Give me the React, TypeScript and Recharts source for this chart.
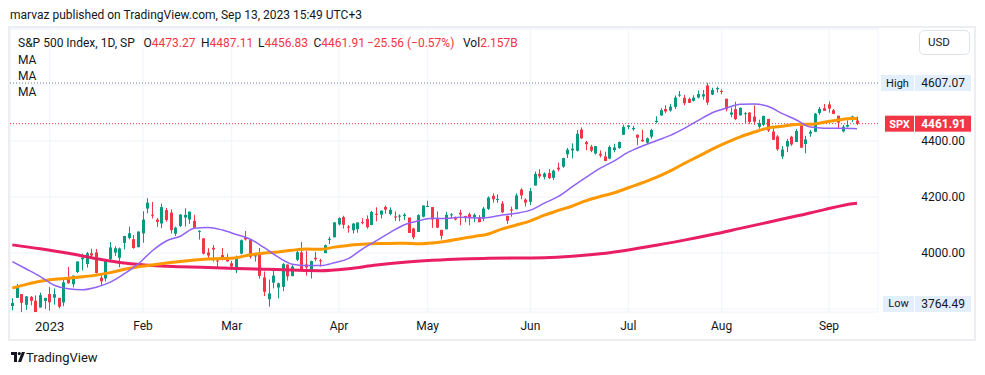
import React from "react";
import { ComposedChart, Bar, Line, XAxis, YAxis, CartesianGrid, ReferenceLine } from "recharts";

const FONT = "Roboto, 'Noto Sans', Arial, sans-serif";
const UP = "#089981";
const DOWN = "#f23645";
const TEXT = "#131722";

const titleText = "marvaz published on TradingView.com, Sep 13, 2023 15:49 UTC+3";
const symbolText = "S&P 500 Index, 1D, SP";
const legendO = "4473.27";
const legendH = "4487.11";
const legendL = "4456.83";
const legendC = "4461.91";
const legendChange = "\u221225.56 (\u22120.57%)";
const legendVol = "2.157B";

const dates = (
  "12/20 12/21 12/22 12/23 12/27 12/28 12/29 12/30 " +
  "1/3 1/4 1/5 1/6 1/9 1/10 1/11 1/12 1/13 1/17 1/18 1/19 1/20 1/23 1/24 1/25 1/26 1/27 1/30 1/31 " +
  "2/1 2/2 2/3 2/6 2/7 2/8 2/9 2/10 2/13 2/14 2/15 2/16 2/17 2/21 2/22 2/23 2/24 2/27 2/28 " +
  "3/1 3/2 3/3 3/6 3/7 3/8 3/9 3/10 3/13 3/14 3/15 3/16 3/17 3/20 3/21 3/22 3/23 3/24 3/27 3/28 3/29 3/30 3/31 " +
  "4/3 4/4 4/5 4/6 4/10 4/11 4/12 4/13 4/14 4/17 4/18 4/19 4/20 4/21 4/24 4/25 4/26 4/27 4/28 " +
  "5/1 5/2 5/3 5/4 5/5 5/8 5/9 5/10 5/11 5/12 5/15 5/16 5/17 5/18 5/19 5/22 5/23 5/24 5/25 5/26 5/30 5/31 " +
  "6/1 6/2 6/5 6/6 6/7 6/8 6/9 6/12 6/13 6/14 6/15 6/16 6/20 6/21 6/22 6/23 6/26 6/27 6/28 6/29 6/30 " +
  "7/3 7/5 7/6 7/7 7/10 7/11 7/12 7/13 7/14 7/17 7/18 7/19 7/20 7/21 7/24 7/25 7/26 7/27 7/28 7/31 " +
  "8/1 8/2 8/3 8/4 8/7 8/8 8/9 8/10 8/11 8/14 8/15 8/16 8/17 8/18 8/21 8/22 8/23 8/24 8/25 8/28 8/29 8/30 8/31 " +
  "9/1 9/5 9/6 9/7 9/8 9/11 9/12"
).split(" ");

// empty slots to the right of the last bar
const rightPadSlots = ["+1", "+2", "+3", "+4"];

const open = [
  3810.47, 3839.49, 3853.26, 3815.11, 3843.34, 3829.56, 3805.45, 3829.06,
  3853.29, 3840.36, 3839.74, 3823.37, 3910.82, 3888.57, 3932.35, 3977.57, 3960.6, 3999.28, 4002.25, 3911.84, 3909.04, 3978.14, 4001.74, 3982.71, 4036.08, 4053.72, 4049.27, 4020.85,
  4070.07, 4158.68, 4136.69, 4119.57, 4105.35, 4153.47, 4144.25, 4068.92, 4096.62, 4126.7, 4119.5, 4114.75, 4077.39, 4052.35, 4001.83, 4018.6, 3973.24, 3992.36, 3977.19,
  3963.34, 3938.68, 3998.02, 4055.15, 4048.26, 3987.55, 3998.66, 3912.77, 3835.12, 3894.01, 3876.74, 3878.93, 3958.69, 3917.47, 3975.89, 4002.04, 3959.21, 3939.21, 3982.93, 3974.13, 3999.53, 4046.74, 4056.18,
  4102.2, 4128.03, 4094.5, 4081.15, 4085.2, 4110.29, 4121.72, 4100.04, 4140.11, 4137.17, 4164.26, 4139.33, 4130.48, 4132.14, 4132.07, 4126.43, 4087.78, 4075.29, 4129.63,
  4166.79, 4164.1, 4122.25, 4082.61, 4084.73, 4136.98, 4124.25, 4143.74, 4132.24, 4138.54, 4126.65, 4127.95, 4122.85, 4157.68, 4204.15, 4190.78, 4176.8, 4132.96, 4155.71, 4156.16, 4226.71, 4190.74,
  4183.03, 4241.01, 4282.99, 4271.34, 4285.47, 4268.69, 4304.88, 4308.32, 4352.61, 4366.29, 4365.33, 4440.95, 4396.11, 4380.01, 4355.4, 4354.17, 4344.84, 4337.36, 4367.48, 4374.94, 4422.44,
  4450.48, 4442.04, 4422.62, 4404.54, 4394.23, 4415.55, 4467.69, 4491.5, 4514.61, 4508.86, 4521.78, 4563.87, 4554.38, 4550.16, 4543.39, 4555.19, 4558.96, 4598.26, 4565.75, 4584.82,
  4578.83, 4550.93, 4494.27, 4513.96, 4491.58, 4498.03, 4501.57, 4487.16, 4450.69, 4458.13, 4478.87, 4433.79, 4416.32, 4344.88, 4380.28, 4415.33, 4396.44, 4455.16, 4389.38, 4426.03, 4432.75, 4500.34, 4517.01,
  4530.6, 4510.06, 4490.35, 4434.55, 4451.3, 4480.98, 4473.27,
];

const high = [
  3838.24, 3889.82, 3853.26, 3845.8, 3846.65, 3848.32, 3858.19, 3839.85,
  3878.46, 3873.16, 3839.74, 3906.19, 3950.57, 3919.83, 3970.07, 3997.76, 4003.95, 4015.39, 4014.16, 3922.94, 3972.96, 4039.31, 4023.92, 4019.55, 4061.57, 4094.21, 4063.85, 4077.16,
  4148.95, 4195.44, 4182.36, 4124.63, 4176.54, 4160.77, 4156.23, 4094.36, 4138.9, 4159.77, 4148.11, 4136.54, 4081.51, 4052.35, 4017.37, 4028.3, 3978.25, 4018.05, 3997.5,
  3971.73, 3990.84, 4048.29, 4078.49, 4050.0, 4000.41, 4017.81, 3934.05, 3905.05, 3937.29, 3894.26, 3964.46, 3958.91, 3956.62, 4009.08, 4039.49, 4007.66, 3972.74, 4003.83, 3979.2, 4030.59, 4057.85, 4110.75,
  4127.66, 4133.13, 4099.69, 4107.32, 4109.5, 4124.26, 4134.37, 4150.26, 4163.19, 4151.72, 4169.48, 4162.57, 4148.57, 4138.02, 4142.41, 4126.43, 4089.67, 4138.24, 4170.06,
  4186.92, 4164.1, 4148.3, 4082.61, 4147.02, 4142.3, 4130.35, 4154.28, 4132.8, 4143.74, 4141.25, 4135.54, 4164.67, 4202.2, 4212.91, 4209.22, 4185.68, 4132.96, 4165.74, 4212.87, 4231.1, 4195.44,
  4232.43, 4290.67, 4299.28, 4288.33, 4299.19, 4298.01, 4322.62, 4340.13, 4375.37, 4391.82, 4439.2, 4448.47, 4400.15, 4386.22, 4382.25, 4366.55, 4362.06, 4384.42, 4390.35, 4398.39, 4458.48,
  4456.46, 4454.06, 4422.62, 4440.39, 4412.6, 4443.64, 4488.34, 4517.38, 4527.76, 4532.85, 4562.3, 4578.43, 4564.74, 4555.0, 4563.41, 4580.62, 4582.47, 4607.07, 4590.16, 4594.22,
  4584.62, 4550.93, 4519.49, 4540.34, 4519.84, 4503.31, 4502.44, 4527.37, 4476.23, 4490.33, 4478.87, 4449.95, 4421.17, 4381.82, 4407.55, 4418.59, 4443.18, 4458.3, 4418.46, 4439.56, 4500.14, 4521.65, 4532.26,
  4541.25, 4514.29, 4490.35, 4457.81, 4473.53, 4490.77, 4487.11,
];

const low = [
  3795.62, 3839.49, 3764.49, 3797.01, 3813.22, 3780.78, 3805.45, 3800.34,
  3794.33, 3815.77, 3802.42, 3809.56, 3890.42, 3877.29, 3928.54, 3937.56, 3947.67, 3984.57, 3926.59, 3885.54, 3897.86, 3971.64, 3989.79, 3949.06, 4013.29, 4048.7, 4015.55, 4020.44,
  4037.2, 4141.88, 4123.36, 4093.38, 4088.39, 4111.66, 4069.67, 4060.79, 4092.67, 4095.01, 4103.98, 4089.49, 4047.95, 3995.19, 3976.9, 3969.19, 3943.08, 3973.55, 3968.98,
  3939.05, 3928.16, 3995.17, 4044.61, 3980.31, 3969.76, 3908.7, 3846.32, 3808.86, 3873.63, 3838.24, 3864.11, 3901.27, 3916.89, 3971.19, 3936.17, 3919.05, 3909.16, 3970.49, 3951.53, 3999.53, 4032.1, 4056.18,
  4098.79, 4086.87, 4072.56, 4069.84, 4072.55, 4102.61, 4086.94, 4099.4, 4113.2, 4123.18, 4140.36, 4134.49, 4114.57, 4113.86, 4117.77, 4071.38, 4049.35, 4075.29, 4127.18,
  4166.79, 4089.72, 4088.86, 4048.28, 4084.73, 4123.81, 4116.65, 4098.92, 4109.29, 4099.12, 4110.27, 4109.86, 4113.62, 4153.5, 4180.2, 4179.68, 4142.54, 4103.98, 4129.73, 4156.16, 4192.18, 4166.15,
  4171.64, 4241.01, 4266.82, 4263.09, 4263.96, 4261.07, 4291.7, 4304.37, 4339.5, 4337.85, 4362.6, 4407.44, 4367.19, 4360.14, 4351.82, 4341.34, 4328.08, 4335.0, 4360.22, 4371.97, 4422.44,
  4442.29, 4436.61, 4385.05, 4397.4, 4389.92, 4408.46, 4463.23, 4489.36, 4499.56, 4504.9, 4514.59, 4557.48, 4527.56, 4535.79, 4541.29, 4552.42, 4547.58, 4528.56, 4564.01, 4573.14,
  4567.53, 4505.75, 4485.54, 4474.55, 4491.15, 4464.39, 4461.33, 4457.92, 4443.98, 4453.44, 4432.19, 4403.55, 4364.83, 4335.31, 4360.3, 4382.77, 4396.44, 4375.55, 4356.29, 4414.98, 4431.68, 4493.59, 4507.39,
  4501.35, 4496.01, 4442.38, 4430.46, 4448.38, 4467.89, 4456.83,
];

const close = [
  3821.62, 3878.44, 3822.39, 3844.82, 3829.25, 3783.22, 3849.28, 3839.5,
  3824.14, 3852.97, 3808.1, 3895.08, 3892.09, 3919.25, 3969.61, 3983.17, 3999.09, 3990.97, 3928.86, 3898.85, 3972.61, 4019.81, 4016.95, 4016.22, 4060.43, 4070.56, 4017.77, 4076.6,
  4119.21, 4179.76, 4136.48, 4111.08, 4164.0, 4117.86, 4081.5, 4090.46, 4137.29, 4136.13, 4147.6, 4090.41, 4079.09, 3997.34, 3991.05, 4012.32, 3970.04, 3982.24, 3970.15,
  3951.39, 3981.35, 4045.64, 4048.42, 3986.37, 3992.01, 3918.32, 3861.59, 3855.76, 3919.29, 3891.93, 3960.28, 3916.64, 3951.57, 4002.87, 3936.97, 3948.72, 3970.99, 3977.53, 3971.27, 4027.81, 4050.83, 4109.31,
  4124.51, 4100.6, 4090.38, 4105.02, 4109.11, 4108.94, 4091.95, 4146.22, 4137.64, 4151.32, 4154.87, 4154.52, 4129.79, 4133.52, 4137.04, 4071.63, 4055.99, 4135.35, 4169.48,
  4167.87, 4119.58, 4090.75, 4061.22, 4136.25, 4138.12, 4119.17, 4137.64, 4130.62, 4124.08, 4136.28, 4109.9, 4158.77, 4198.05, 4191.98, 4192.63, 4145.58, 4115.24, 4151.28, 4205.45, 4205.52, 4179.83,
  4221.02, 4282.37, 4273.79, 4283.85, 4267.52, 4293.93, 4298.86, 4338.93, 4369.01, 4372.59, 4425.84, 4409.59, 4388.71, 4365.69, 4381.89, 4348.33, 4328.82, 4378.41, 4376.86, 4396.44, 4450.38,
  4455.59, 4446.82, 4411.59, 4398.95, 4409.53, 4439.26, 4472.16, 4510.04, 4505.42, 4522.79, 4554.98, 4565.72, 4534.87, 4536.34, 4554.64, 4567.46, 4566.75, 4537.41, 4582.23, 4588.96,
  4576.73, 4513.39, 4501.89, 4478.03, 4518.44, 4499.38, 4467.71, 4468.83, 4464.05, 4489.72, 4437.86, 4404.33, 4370.36, 4369.71, 4399.77, 4387.55, 4436.01, 4376.31, 4405.71, 4433.31, 4497.63, 4514.87, 4507.66,
  4515.77, 4496.83, 4465.48, 4451.14, 4457.49, 4487.46, 4461.91,
];

// moving averages read at every 3rd bar (20 & 50) and every 6th bar (200)
const maBarsStep3 = [
  0, 3, 6, 9, 12, 15, 18, 21, 24, 27, 30, 33, 36, 39, 42, 45, 48, 51, 54, 57, 60, 63, 66, 69, 72, 75, 78, 81, 84, 87,
  90, 93, 96, 99, 102, 105, 108, 111, 114, 117, 120, 123, 126, 129, 132, 135, 138, 141, 144, 147, 150, 153, 156, 159,
  162, 165, 168, 171, 174, 177, 180, 181,
];
const ma20Values = [
  3969, 3943, 3916, 3885, 3872, 3869, 3878, 3896, 3926, 3961, 4008, 4043, 4060, 4088, 4091, 4082, 4066, 4049, 4019, 3985,
  3960, 3955, 3955, 3965, 3980, 4014, 4044, 4074, 4101, 4115, 4124, 4123, 4128, 4125, 4127, 4136, 4142, 4153, 4178, 4202,
  4237, 4271, 4303, 4329, 4360, 4382, 4401, 4420, 4445, 4474, 4501, 4518, 4531, 4532, 4523, 4498, 4475, 4450, 4446, 4446,
  4445, 4444,
];
const ma50Values = [
  3875, 3888, 3899, 3906, 3910, 3915, 3921, 3930, 3942, 3951, 3957, 3964, 3970, 3975, 3979, 3980, 3983, 3994, 4000, 4004,
  4010, 4014, 4013, 4021, 4027, 4031, 4034, 4034, 4035, 4033, 4036, 4042, 4051, 4059, 4068, 4086, 4100, 4115, 4135, 4152,
  4168, 4187, 4202, 4215, 4233, 4251, 4270, 4293, 4320, 4345, 4371, 4394, 4415, 4432, 4447, 4453, 4459, 4460, 4467, 4475,
  4480, 4480,
];
const maBarsStep6 = [
  0, 6, 12, 18, 24, 30, 36, 42, 48, 54, 60, 66, 72, 78, 84, 90, 96, 102, 108, 114, 120, 126, 132, 138, 144, 150, 156,
  162, 168, 174, 180, 181,
];
const ma200Values = [
  4029, 4015, 3999, 3980, 3964, 3955, 3951, 3948, 3945, 3942, 3939, 3937, 3944, 3957, 3967, 3974, 3979, 3981, 3982,
  3983, 3988, 3997, 4011, 4028, 4046, 4066, 4088, 4110, 4132, 4155, 4176, 4178,
];

const monthTickDates = ["1/3", "2/1", "3/1", "4/3", "5/1", "6/1", "7/3", "8/1", "9/1"];
const monthTickLabels = ["2023", "Feb", "Mar", "Apr", "May", "Jun", "Jul", "Aug", "Sep"];
const priceTicks = [3800, 4000, 4200, 4400, 4600, 4800];
const priceLabelTicks = [4000, 4200, 4400];
const priceDomain = [3789.3, 4803.6];
const highValue = 4607.07;
const lowValue = 3764.49;
const lastValue = 4461.91;

type Row = { [k: string]: any };
const rows: Row[] = [...dates, ...rightPadSlots].map((d, i) => {
  const r: Row = { d };
  if (i < dates.length) {
    r.range = [low[i], high[i]];
    r.o = open[i];
    r.h = high[i];
    r.l = low[i];
    r.c = close[i];
  }
  return r;
});
maBarsStep3.forEach((b, k) => {
  rows[b].ma20 = ma20Values[k];
  rows[b].ma50 = ma50Values[k];
});
maBarsStep6.forEach((b, k) => {
  rows[b].ma200 = ma200Values[k];
});

function Candle(props: any) {
  const { x, y, width, height, payload } = props;
  if (!payload || payload.o == null) return <g />;
  const top = Math.min(y, y + height);
  const bot = Math.max(y, y + height);
  const span = payload.h - payload.l;
  const k = span > 0 ? (bot - top) / span : 0;
  const py = (v: number) => top + (payload.h - v) * k;
  const color = payload.c >= payload.o ? UP : DOWN;
  const cx = Math.floor(x + width / 2);
  const bTop = py(Math.max(payload.o, payload.c));
  const bBot = py(Math.min(payload.o, payload.c));
  return (
    <g>
      <rect x={cx} y={top} width={1} height={Math.max(1, bot - top)} fill={color} />
      <rect x={cx - 1} y={bTop} width={3} height={Math.max(1, bBot - bTop)} fill={color} />
    </g>
  );
}

function TimeTick(props: any) {
  const idx = monthTickDates.indexOf(props.payload.value);
  if (idx < 0) return <g />;
  const isYear = idx === 0;
  return (
    <text x={props.x} y={298} dy="0.35em" textAnchor="middle" fontSize={isYear ? 13 : 12} fill={TEXT} fontFamily={FONT}>
      {monthTickLabels[idx]}
    </text>
  );
}

function PriceTick(props: any) {
  const v = props.payload.value;
  if (!priceLabelTicks.includes(v)) return <g />;
  return (
    <text x={955} y={props.y} dy="0.35em" textAnchor="end" fontSize={12} fill={TEXT} fontFamily={FONT}>
      {v.toFixed(2)}
    </text>
  );
}

function highTag(p: any) {
  const vb = p.viewBox || {};
  const x0 = vb.x + vb.width;
  const y = vb.y;
  return (
    <g>
      <rect x={x0 + 3} y={y - 8} width={33} height={16} fill="#e3effd" />
      <text x={x0 + 19.5} y={y} dy="0.35em" textAnchor="middle" fontSize={11} fill={TEXT} fontFamily={FONT}>High</text>
      <rect x={x0 + 37} y={y - 8} width={56} height={16} fill="#e3effd" />
      <text x={x0 + 87} y={y} dy="0.35em" textAnchor="end" fontSize={12} fill={TEXT} fontFamily={FONT}>{highValue.toFixed(2)}</text>
    </g>
  );
}

function lastTag(p: any) {
  const vb = p.viewBox || {};
  const x0 = vb.x + vb.width;
  const y = vb.y;
  return (
    <g>
      <rect x={x0 + 7} y={y - 8} width={29} height={16} fill={DOWN} />
      <text x={x0 + 21.5} y={y} dy="0.35em" textAnchor="middle" fontSize={11} fontWeight={700} fill="#fff" fontFamily={FONT}>SPX</text>
      <rect x={x0 + 37} y={y - 8} width={56} height={16} fill={DOWN} />
      <text x={x0 + 88} y={y} dy="0.35em" textAnchor="end" fontSize={12} fontWeight={700} fill="#fff" fontFamily={FONT}>{lastValue.toFixed(2)}</text>
    </g>
  );
}

const abs = (left: number, top: number, extra: React.CSSProperties = {}): React.CSSProperties => ({
  position: "absolute",
  left,
  top,
  whiteSpace: "nowrap",
  ...extra,
});

export default function App() {
  const legendFont: React.CSSProperties = { fontSize: 12, lineHeight: "16px" };
  return (
    <div style={{ position: "absolute", left: 0, top: 0, width: 985, height: 375, background: "#fff", overflow: "hidden", fontFamily: FONT, color: TEXT }}>
      <div style={abs(10, 6, { fontSize: 12, lineHeight: "18px" })}>{titleText}</div>

      <div style={abs(10, 28)}>
        <ComposedChart width={964} height={312} data={rows} margin={{ top: 0, right: 0, bottom: 0, left: 0 }}>
          <CartesianGrid stroke="#f0f3fa" />
          <XAxis dataKey="d" type="category" ticks={monthTickDates} interval={0} height={28} tickLine={false} axisLine={false} tick={(p: any) => <TimeTick {...p} />} />
          <YAxis orientation="right" type="number" width={96} domain={priceDomain} allowDataOverflow ticks={priceTicks} tickLine={false} axisLine={false} tick={(p: any) => <PriceTick {...p} />} />
          <Bar dataKey="range" shape={(p: any) => <Candle {...p} />} isAnimationActive={false} />
          <ReferenceLine y={highValue} stroke="#787b86" strokeDasharray="1 2" label={highTag} />
          <ReferenceLine y={lastValue} stroke={DOWN} strokeDasharray="1 2" label={lastTag} />
          <Line dataKey="ma200" type="monotone" stroke="#e91e63" strokeWidth={3} dot={false} connectNulls isAnimationActive={false} />
          <Line dataKey="ma50" type="monotone" stroke="#ff9800" strokeWidth={3} dot={false} connectNulls isAnimationActive={false} />
          <Line dataKey="ma20" type="monotone" stroke="#9162f7" strokeWidth={1.5} dot={false} connectNulls isAnimationActive={false} />
        </ComposedChart>
      </div>

      <div style={{ position: "absolute", left: 8, top: 26, width: 968, height: 315, border: "2px solid #eceef2", boxSizing: "border-box", pointerEvents: "none" }} />

      <div style={abs(18, 35, legendFont)}>{symbolText}</div>
      <div style={abs(143.5, 35, legendFont)}>O<span style={{ color: DOWN }}>{legendO}</span></div>
      <div style={abs(201, 35, legendFont)}>H<span style={{ color: DOWN }}>{legendH}</span></div>
      <div style={abs(258, 35, legendFont)}>L<span style={{ color: DOWN }}>{legendL}</span></div>
      <div style={abs(313.5, 35, legendFont)}>C<span style={{ color: DOWN }}>{legendC}</span></div>
      <div style={abs(367, 35, { ...legendFont, color: DOWN })}>{legendChange}</div>
      <div style={abs(463, 35, legendFont)}>Vol<span style={{ color: DOWN }}>{legendVol}</span></div>
      <div style={abs(18, 52, legendFont)}>MA</div>
      <div style={abs(18, 68, legendFont)}>MA</div>
      <div style={abs(18, 84, legendFont)}>MA</div>

      <div style={abs(919, 30, { width: 51, height: 25, boxSizing: "border-box", border: "1px solid #e0e3eb", borderRadius: 5, fontSize: 11.5, lineHeight: "23px", paddingLeft: 8 })}>USD</div>

      <div style={abs(883, 296, { width: 31, height: 16, background: "#e3effd", fontSize: 11, lineHeight: "16px", textAlign: "center" })}>Low</div>
      <div style={abs(915, 296, { width: 56, height: 16, background: "#e3effd", fontSize: 12, lineHeight: "16px", textAlign: "right", paddingRight: 6, boxSizing: "border-box" })}>{lowValue.toFixed(2)}</div>

      <svg style={{ position: "absolute", left: 11, top: 352 }} width={14} height={11} viewBox="0 0 14 11">
        <path d="M0 0 H6 V10 H3 V3 H0 Z" fill={TEXT} />
        <circle cx={8.3} cy={1.6} r={1.6} fill={TEXT} />
        <path d="M7 10 L10.8 0 H14 L10.2 10 Z" fill={TEXT} />
      </svg>
      <div style={abs(26, 349, { fontSize: 13, lineHeight: "17px" })}>TradingView</div>
    </div>
  );
}
